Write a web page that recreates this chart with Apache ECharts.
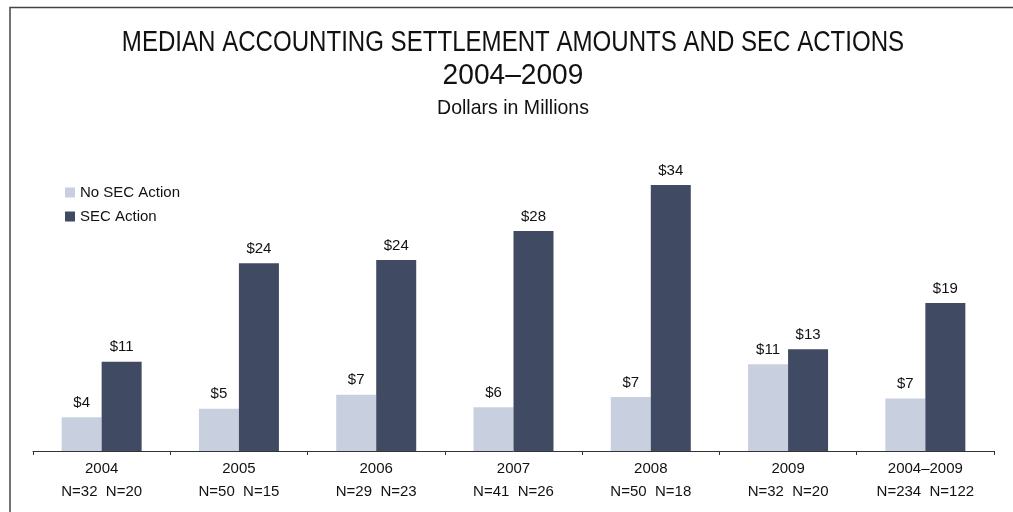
<!DOCTYPE html>
<html>
<head>
<meta charset="utf-8">
<script src="https://cdn.jsdelivr.net/npm/echarts@6/dist/echarts.min.js"></script>
<style>
  html, body { margin: 0; padding: 0; background: #fff; }
  #chart { width: 1013px; height: 512px; }
</style>
</head>
<body>
<div id="chart"></div>
<script>
// categories and counts (No SEC / SEC)
const years = ['2004', '2005', '2006', '2007', '2008', '2009', '2004–2009'];
const countsNoSec = [32, 50, 29, 41, 50, 32, 234];
const countsSec = [20, 15, 23, 26, 18, 20, 122];

// median settlement, $ millions
const noSecAction = [4.3, 5.4, 7.2, 5.6, 6.9, 11.1, 6.7];
const secAction = [11.4, 24.0, 24.4, 28.1, 34.0, 13.0, 18.9];

const chart = echarts.init(document.getElementById('chart'));

const sans = '"Liberation Sans", Arial, sans-serif';

// title lines drawn as text squeezed horizontally (original uses a narrow face)
function titleLine(text, y, size, sx) {
    return {
        type: 'text',
        x: 513, y: y,
        scaleX: sx,
        style: {
            text: text,
            fontFamily: sans, fontSize: size,
            fill: '#111',
            align: 'center', verticalAlign: 'middle'
        }
    };
}

const option = {
    animation: false,
    legend: {
        orient: 'vertical',
        left: 60, top: 180,
        itemWidth: 10, itemHeight: 10,
        itemGap: 9,
        icon: 'rect',
        textStyle: { fontFamily: sans, fontSize: 15, color: '#111' },
        data: ['No SEC Action', 'SEC Action']
    },
    grid: { left: 33, right: 19, top: 138, bottom: 61 },
    xAxis: {
        type: 'category',
        data: years,
        axisLine: { lineStyle: { color: '#333', width: 1 } },
        axisTick: { show: true, length: 4, lineStyle: { color: '#333' } },
        axisLabel: {
            margin: 6,
            fontFamily: sans,
            fontSize: 15,
            lineHeight: 23,
            color: '#111',
            formatter: function (v, i) {
                return v + '\nN=' + countsNoSec[i] + '  N=' + countsSec[i];
            }
        }
    },
    yAxis: { type: 'value', min: 0, max: 40, show: false, splitLine: { show: false } },
    series: [
        {
            name: 'No SEC Action',
            type: 'bar',
            barWidth: 40,
            barGap: '0%',
            itemStyle: { color: '#c8d0e0' },
            label: {
                show: true, position: 'top', distance: 7,
                fontFamily: sans, fontSize: 15, color: '#111',
                formatter: p => '$' + Math.round(p.value)
            },
            data: noSecAction
        },
        {
            name: 'SEC Action',
            type: 'bar',
            barWidth: 40,
            itemStyle: { color: '#404a62' },
            label: {
                show: true, position: 'top', distance: 7,
                fontFamily: sans, fontSize: 15, color: '#111',
                formatter: p => '$' + Math.round(p.value)
            },
            data: secAction
        }
    ],
    graphic: [
        {
            type: 'polyline',
            shape: { points: [[10, 520], [10, 7.5], [1020, 7.5]] },
            style: { stroke: '#444', lineWidth: 1.5, fill: null }
        },
        titleLine('MEDIAN ACCOUNTING SETTLEMENT AMOUNTS AND SEC ACTIONS', 43, 29, 0.83),
        titleLine('2004–2009', 76, 29, 0.97),
        titleLine('Dollars in Millions', 108, 21, 0.93)
    ]
};

chart.setOption(option);
</script>
</body>
</html>
